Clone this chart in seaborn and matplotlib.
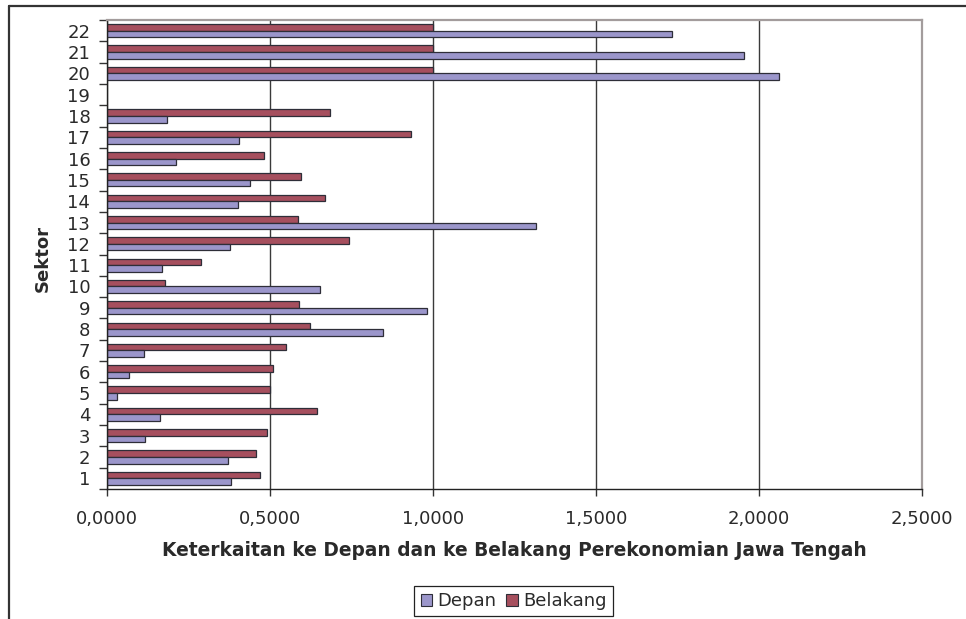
import numpy as np
import pandas as pd
import matplotlib
matplotlib.use("Agg")
import matplotlib.pyplot as plt
from matplotlib.lines import Line2D
from matplotlib.patches import Patch
from matplotlib.ticker import FixedLocator, FuncFormatter
import seaborn as sns

# Sector numbers (19 has no values)
sektor = [str(i) for i in range(1, 23)]

# Forward linkage (Depan)
depan = [0.381, 0.372, 0.118, 0.163, 0.030, 0.069, 0.113, 0.847, 0.982, 0.654,
         0.168, 0.377, 1.317, 0.401, 0.440, 0.213, 0.406, 0.183, np.nan,
         2.062, 1.954, 1.732]

# Backward linkage (Belakang)
belakang = [0.470, 0.456, 0.491, 0.644, 0.500, 0.510, 0.550, 0.624, 0.590, 0.179,
            0.288, 0.743, 0.585, 0.668, 0.595, 0.482, 0.932, 0.684, np.nan,
            1.000, 1.000, 1.000]

x_ticks = [0.0, 0.5, 1.0, 1.5, 2.0, 2.5]

df = pd.DataFrame({
    "Sektor": sektor * 2,
    "Nilai": depan + belakang,
    "Jenis": ["Depan"] * len(sektor) + ["Belakang"] * len(sektor),
}).dropna()

blue = "#9b96cb"
red = "#a64f5e"
edge = "#2e2e38"

sns.set_theme(style="white")
plt.rcParams["font.family"] = ["DejaVu Sans"]
plt.rcParams["text.color"] = "#2a2a2a"
plt.rcParams["axes.labelcolor"] = "#2a2a2a"
plt.rcParams["xtick.color"] = "#2a2a2a"
plt.rcParams["ytick.color"] = "#2a2a2a"

fig = plt.figure(figsize=(9.66, 6.19), dpi=100)
ax = fig.add_axes([107 / 966, 1 - 489 / 619, 815 / 966, 469 / 619])

order = sektor[::-1]
sns.barplot(data=df, y="Sektor", x="Nilai", hue="Jenis", order=order,
            hue_order=["Belakang", "Depan"], palette={"Depan": blue, "Belakang": red},
            orient="h", width=0.62, errorbar=None, edgecolor=edge, linewidth=0.9,
            saturation=1, legend=False, ax=ax)

ax.set_xlim(0, 2.5)
ax.set_xticks(x_ticks)
ax.xaxis.set_major_formatter(FuncFormatter(lambda v, p: f"{v:.4f}".replace(".", ",")))
ax.tick_params(axis="x", which="major", length=5, width=1, pad=10, labelsize=13,
               direction="out", bottom=True, color="#333333")

# category labels at centres, tick marks at category boundaries
n = len(order)
ax.yaxis.set_minor_locator(FixedLocator(np.arange(-0.5, n, 1.0)))
ax.tick_params(axis="y", which="major", length=0, pad=12, labelsize=13)
ax.tick_params(axis="y", which="minor", length=6, width=1, left=True, direction="out",
               color="#333333")

ax.set_axisbelow(True)
ax.grid(axis="x", color="#3a3a3a", linewidth=1.0)
ax.grid(axis="y", visible=False)

for side in ["left", "bottom"]:
    ax.spines[side].set_color("#222222")
    ax.spines[side].set_linewidth(1.0)
for side in ["top", "right"]:
    ax.spines[side].set_color("#a39c9c")
    ax.spines[side].set_linewidth(1.6)

ax.set_xlabel("Keterkaitan ke Depan dan ke Belakang Perekonomian Jawa Tengah",
              fontsize=13.4, fontweight="bold")
ax.xaxis.set_label_coords(0.5, (489 - 551) / 469)
ax.xaxis.label.set_va("center")
ax.set_ylabel("Sektor", fontsize=13, fontweight="bold")
ax.yaxis.set_label_coords((43 - 107) / 815, (489 - 259) / 469)
ax.yaxis.label.set_va("center")

handles = [Patch(facecolor=blue, edgecolor=edge, linewidth=0.8, label="Depan"),
           Patch(facecolor=red, edgecolor=edge, linewidth=0.8, label="Belakang")]
leg = fig.legend(handles=handles, loc="center", bbox_to_anchor=(513.5 / 966, 1 - 601 / 619),
                 ncol=2, fontsize=13, frameon=True, fancybox=False, framealpha=1,
                 handlelength=0.65, handleheight=0.65, handletextpad=0.3, columnspacing=0.5,
                 borderpad=0.35, borderaxespad=0)
leg.get_frame().set_edgecolor("#222222")
leg.get_frame().set_linewidth(0.9)

# outer chart frame (left and top edges visible)
fig.add_artist(Line2D([9 / 966, 9 / 966], [0, 1 - 6 / 619], transform=fig.transFigure,
                      color="#333333", linewidth=1.6))
fig.add_artist(Line2D([9 / 966, 1], [1 - 6 / 619, 1 - 6 / 619], transform=fig.transFigure,
                      color="#333333", linewidth=1.6))

fig.savefig("out.png", dpi=100)
